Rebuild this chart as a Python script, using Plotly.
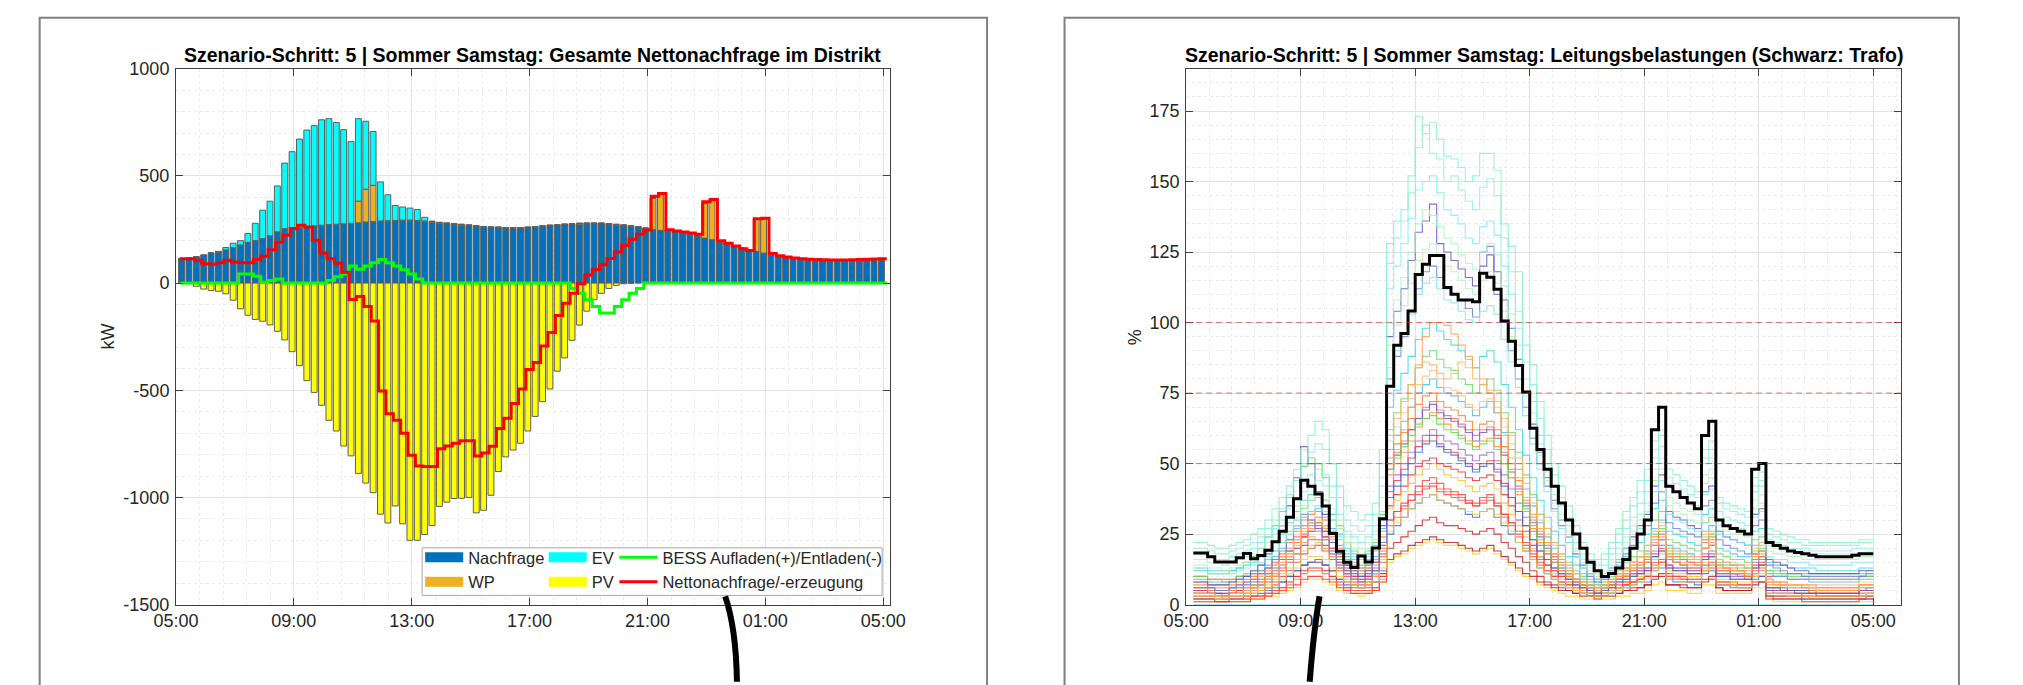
import plotly.graph_objects as go

W, H = 2023, 685
FONT = "Liberation Sans, Arial, Helvetica, sans-serif"
TXT = "#262626"

# ---------------- shared axis labels ----------------
tick_hours = [0, 4, 8, 12, 16, 20, 24]
tick_labels = ["05:00", "09:00", "13:00", "17:00", "21:00", "01:00", "05:00"]
left_y_ticks = [-1500, -1000, -500, 0, 500, 1000]
left_y_labels = ["-1500", "-1000", "-500", "0", "500", "1000"]
right_y_ticks = [0, 25, 50, 75, 100, 125, 150, 175]
right_y_labels = ["0", "25", "50", "75", "100", "125", "150", "175"]
thresholds = [50, 75, 100]

title_left = "Szenario-Schritt: 5 | Sommer Samstag: Gesamte Nettonachfrage im Distrikt"
title_right = "Szenario-Schritt: 5 | Sommer Samstag: Leitungsbelastungen (Schwarz: Trafo)"

# ---------------- left chart: district demand (kW), 96 x 15 min ----------------
nachfrage = [113, 116, 122, 130, 140, 145, 155, 166, 178, 190,
             198, 208, 222, 239, 254, 258, 261, 264, 267, 270,
             273, 275, 277, 279, 281, 285, 287, 288, 289, 290,
             290, 290, 288, 286, 284, 279, 276, 273, 270, 267,
             263, 260, 258, 257, 255, 255, 255, 257, 260, 263,
             266, 268, 271, 273, 275, 276, 276, 276, 273, 270,
             267, 263, 258, 252, 249, 246, 243, 240, 232, 225,
             217, 210, 202, 190, 182, 172, 161, 154, 148, 140,
             132, 125, 118, 113, 110, 107, 105, 104, 103, 102,
             102, 102, 103, 104, 105, 106]
wp = [0, 0, 0, 0, 0, 0, 0, 0, 0, 0,
      0, 0, 0, 0, 0, 0, 0, 0, 0, 0,
      0, 0, 0, 0, 101, 153, 169, 2, 2, 2,
      4, 4, 4, 4, 4, 4, 4, 4, 4, 4,
      4, 4, 4, 4, 4, 4, 4, 4, 4, 4,
      4, 4, 4, 4, 4, 4, 4, 4, 4, 4,
      4, 4, 4, 4, 148, 169, 3, 3, 3, 3,
      3, 163, 187, 2, 2, 2, 2, 2, 151, 159,
      0, 0, 0, 0, 0, 0, 0, 0, 0, 0,
      0, 0, 0, 0, 0, 0]
ev = [0, 0, 0, 0, 0, 3, 11, 20, 20, 41,
      81, 132, 160, 214, 306, 355, 411, 450, 468, 492,
      494, 474, 439, 381, 385, 317, 251, 182, 121, 70,
      61, 56, 51, 17, 0, 0, 0, 0, 0, 0,
      0, 0, 0, 0, 0, 0, 0, 0, 0, 0,
      0, 0, 0, 0, 0, 0, 0, 0, 0, 0,
      0, 0, 0, 0, 0, 0, 0, 0, 0, 0,
      0, 0, 0, 0, 0, 0, 0, 0, 0, 0,
      0, 0, 0, 0, 0, 0, 0, 0, 0, 0,
      0, 0, 0, 0, 0, 0]
pv = [0, -3, -15, -28, -35, -38, -50, -80, -120, -150,
      -170, -178, -195, -225, -265, -320, -385, -455, -510, -570,
      -640, -690, -760, -806, -888, -933, -978, -1078, -1119, -1040,
      -1123, -1200, -1200, -1173, -1131, -1042, -1022, -1005, -1004, -1000,
      -1072, -1060, -990, -879, -811, -779, -747, -690, -622, -553,
      -494, -411, -349, -267, -196, -131, -78, -48, -25, -11,
      -3, -1, 0, 0, 0, 0, 0, 0, 0, 0,
      0, 0, 0, 0, 0, 0, 0, 0, 0, 0,
      0, 0, 0, 0, 0, 0, 0, 0, 0, 0,
      0, 0, 0, 0, 0, 0]
bess = [0, 0, 0, 0, 0, 0, 0, 0, 42, 42,
        32, 4, 12, 19, 0, 0, 0, 0, 0, 0,
        12, 30, 42, 80, 65, 80, 95, 110, 95, 80,
        62, 42, 19, 0, 0, 0, 0, 0, 0, 0,
        0, 0, 0, 0, 0, 0, 0, 0, 0, 0,
        0, 0, 0, -25, -48, -78, -109, -139, -139, -109,
        -78, -48, -25, 0, 0, 0, 0, 0, 0, 0,
        0, 0, 0, 0, 0, 0, 0, 0, 0, 0,
        0, 0, 0, 0, 0, 0, 0, 0, 0, 0,
        0, 0, 0, 0, 0, 0]
netto = [113, 113, 107, 90, 88, 95, 107, 98, 95, 95,
         110, 125, 155, 190, 223, 255, 270, 262, 200, 140,
         113, 92, 50, -77, -63, -109, -177, -504, -610, -640,
         -700, -803, -853, -856, -856, -773, -760, -747, -735, -735,
         -807, -793, -761, -678, -630, -562, -494, -403, -370, -294,
         -230, -151, -94, -48, -3, 38, 62, 85, 115, 145,
         175, 205, 228, 248, 405, 418, 249, 243, 238, 234,
         228, 380, 390, 198, 186, 173, 160, 152, 300, 302,
         138, 128, 122, 117, 113, 111, 110, 109, 108, 108,
         108, 109, 110, 111, 112, 113]

# ---------------- right chart: line loadings (%), 96 x 15 min ----------------
trafo = [18.3, 18.3, 17.0, 15.1, 15.1, 15.1, 16.6, 18.1, 16.3, 17.4,
         19.3, 22.3, 26.0, 31.0, 37.5, 44.1, 42.0, 39.2, 35.0, 25.2,
         18.9, 15.0, 13.2, 17.2, 15.1, 20.1, 30.4,
         77.4, 92.0, 96.1, 104.1, 117.0, 120.7, 123.8, 123.8, 112.4, 110.0,
         108.0, 108.0, 107.4, 117.5, 116.1, 111.8, 100.6, 93.4, 84.8, 75.4, 62.5,
         55, 48, 42, 36, 30, 25, 20, 15, 12, 10, 11, 13,
         16, 20, 25, 30, 62, 70, 42, 40, 38, 36,
         34, 60, 65, 30, 28, 27, 26, 25, 48, 50,
         22, 21, 20, 19, 18.5, 18, 17.5, 17, 17, 17, 17, 17, 17.5, 18, 18, 18]

line_L1 = [22, 22, 21, 20, 20, 21, 22, 23, 25, 27,
           30, 34, 38, 42, 48, 55, 60, 65, 62, 50,
           42, 35, 33, 30, 32, 36, 55,
           128, 136, 140, 152, 173, 167, 171, 165, 159, 158, 155, 150, 152, 160, 160, 154, 135, 127, 118, 100, 85,
           72, 60, 50, 42, 35, 28, 22, 18, 16, 18, 22, 27,
           33, 38, 44, 48, 58, 62, 48, 46, 44, 42,
           40, 55, 58, 38, 36, 35, 34, 33, 45, 47,
           27, 26, 25, 24, 23, 23, 22, 22, 22, 22, 22, 22, 22, 23, 23, 23]
line_L2 = [20, 20, 19, 18, 18, 19, 20, 21, 22, 24,
           27, 30, 34, 39, 44, 50, 54, 57, 55, 50,
           38, 30, 28, 26, 28, 32, 50,
           121, 130, 136, 146, 162, 170, 160, 158, 150, 152, 147, 143, 140, 148, 151, 145, 130, 118, 104, 92, 78,
           66, 55, 46, 38, 31, 25, 20, 16, 14, 16, 20, 25,
           30, 35, 40, 44, 55, 60, 45, 43, 41, 39,
           38, 52, 55, 36, 34, 33, 32, 31, 42, 44,
           25, 24, 23, 22, 22, 21, 21, 21, 21, 21, 21, 21, 21, 22, 22, 22]
line_L3 = [18, 18, 17, 16, 16, 17, 18, 19, 20, 22,
           24, 27, 30, 34, 38, 43, 46, 48, 46, 42,
           32, 26, 24, 22, 24, 28, 45,
           112, 120, 128, 137, 147, 150, 152, 146, 140, 138, 135, 130, 128, 134, 136, 131, 120, 110, 98, 86, 72,
           60, 50, 42, 35, 28, 22, 18, 14, 12, 14, 18, 22,
           27, 31, 36, 40, 52, 56, 42, 40, 38, 36,
           35, 50, 52, 33, 31, 30, 29, 28, 40, 42,
           23, 22, 21, 20, 20, 20, 19, 19, 19, 19, 19, 19, 20, 20, 20, 20]
line_L4 = [16, 16, 15, 15, 14, 15, 16, 17, 18, 20,
           22, 25, 28, 31, 35, 40, 42, 44, 42, 38,
           30, 24, 22, 20, 22, 26, 42,
           100, 108, 116, 125, 135, 140, 138, 134, 130, 128, 124, 121, 119, 125, 128, 124, 113, 103, 92, 80, 68,
           57, 47, 39, 32, 26, 20, 16, 13, 11, 12, 16, 20,
           24, 28, 32, 36, 48, 52, 38, 36, 34, 33,
           32, 46, 48, 30, 28, 27, 27, 26, 37, 39,
           21, 20, 19, 19, 18, 18, 18, 18, 18, 18, 18, 18, 18, 18, 19, 19]
line_L5 = [14, 14, 13, 13, 12, 13, 14, 15, 16, 17,
           19, 22, 25, 28, 31, 35, 37, 39, 37, 34,
           27, 22, 20, 18, 20, 23, 38,
           92, 99, 106, 114, 122, 126, 128, 124, 120, 118, 115, 112, 110, 115, 118, 114, 104, 95, 85, 74, 63,
           53, 44, 36, 30, 24, 19, 15, 12, 10, 11, 14, 18,
           22, 26, 30, 33, 44, 48, 35, 33, 32, 30,
           29, 43, 45, 28, 26, 25, 25, 24, 34, 36,
           19, 18, 18, 17, 17, 16, 16, 16, 16, 16, 16, 16, 16, 17, 17, 17]
line_L6 = [12, 12, 11, 11, 11, 11, 12, 13, 14, 15,
           17, 19, 22, 25, 28, 31, 33, 35, 33, 30,
           24, 19, 17, 16, 17, 20, 33,
           84, 90, 96, 103, 110, 114, 116, 112, 108, 107, 104, 101, 100, 104, 106, 103, 94, 86, 77, 67, 57,
           48, 40, 33, 27, 22, 17, 13, 11, 9, 10, 13, 16,
           20, 23, 27, 30, 40, 44, 32, 30, 29, 27,
           26, 39, 41, 25, 24, 23, 22, 21, 31, 33,
           17, 16, 16, 15, 15, 15, 14, 14, 14, 14, 14, 14, 15, 15, 15, 15]
line_B1 = [8, 8, 7, 7, 7, 8, 9, 10, 12, 14,
           18, 22, 28, 35, 45, 56, 50, 40, 32, 25,
           18, 14, 12, 10, 12, 15, 28,
           95, 104, 112, 122, 132, 136, 142, 128, 125, 122, 119, 116, 113, 120, 124, 118, 108, 98, 87, 75, 64,
           54, 45, 37, 30, 24, 18, 14, 11, 9, 10, 13, 16,
           20, 24, 28, 32, 42, 46, 33, 31, 30, 28,
           27, 40, 42, 26, 24, 23, 22, 21, 32, 34,
           16, 15, 14, 13, 12, 12, 11, 11, 11, 11, 11, 11, 11, 12, 12, 12]
line_B2 = [6, 6, 6, 5, 5, 6, 7, 8, 9, 11,
           13, 16, 19, 23, 28, 32, 30, 27, 23, 19,
           14, 11, 9, 8, 9, 12, 22,
           80, 88, 95, 104, 112, 118, 120, 116, 112, 110, 108, 105, 102, 125, 127, 110, 100, 90, 80, 70, 59,
           50, 42, 34, 28, 22, 17, 13, 10, 8, 9, 12, 15,
           18, 21, 25, 28, 36, 40, 29, 27, 26, 25,
           24, 35, 37, 23, 21, 20, 19, 18, 28, 30,
           14, 13, 12, 11, 11, 10, 10, 10, 10, 10, 10, 10, 10, 10, 11, 11]
line_O1 = [4, 4, 4, 3, 3, 4, 4, 5, 6, 7,
           9, 11, 14, 17, 21, 25, 27, 26, 23, 19,
           14, 11, 9, 8, 9, 11, 20,
           60, 66, 72, 78, 84, 86, 85, 82, 80, 82, 86, 84, 80, 78, 76, 72, 66, 60, 52, 45, 38,
           32, 27, 22, 18, 14, 11, 9, 7, 6, 7, 9, 11,
           13, 15, 17, 19, 26, 28, 20, 19, 18, 17,
           16, 24, 26, 16, 15, 14, 14, 13, 20, 21,
           9, 8, 8, 7, 7, 7, 6, 6, 6, 6, 6, 6, 6, 7, 7, 7]
line_O2 = [3, 3, 3, 3, 2, 3, 3, 4, 5, 6,
           8, 10, 12, 15, 18, 22, 24, 23, 20, 17,
           12, 9, 8, 7, 8, 10, 17,
           50, 55, 62, 70, 85, 95, 100, 100, 99, 96, 92, 88, 84, 80, 75, 68, 60, 52, 45, 38, 32,
           27, 22, 18, 15, 12, 9, 7, 6, 5, 6, 8, 10,
           11, 13, 15, 17, 22, 24, 17, 16, 15, 14,
           14, 20, 22, 14, 13, 12, 12, 11, 17, 18,
           8, 7, 7, 6, 6, 6, 6, 5, 5, 5, 5, 5, 5, 6, 6, 6]
line_M1 = [5, 5, 4, 4, 4, 4, 5, 5, 6, 7,
           9, 11, 13, 16, 20, 24, 26, 27, 24, 20,
           15, 12, 10, 9, 10, 12, 18,
           40, 44, 48, 52, 56, 58, 60, 57, 55, 54, 52, 50, 48, 50, 51, 48, 43, 38, 33, 28, 23,
           19, 16, 13, 11, 9, 7, 6, 5, 4, 5, 6, 7,
           8, 10, 11, 12, 18, 20, 13, 12, 12, 11,
           11, 17, 18, 10, 10, 9, 9, 9, 14, 15,
           6, 6, 5, 5, 5, 5, 4, 4, 4, 4, 4, 4, 4, 5, 5, 5]
line_M2 = [3, 3, 3, 3, 2, 3, 3, 3, 4, 5,
           6, 8, 10, 12, 15, 18, 20, 21, 19, 16,
           12, 10, 8, 7, 8, 10, 15,
           30, 33, 36, 39, 42, 44, 45, 43, 41, 40, 39, 37, 36, 38, 39, 36, 32, 29, 25, 21, 18,
           15, 12, 10, 8, 7, 6, 5, 4, 3, 4, 5, 6,
           7, 8, 9, 10, 15, 16, 11, 10, 10, 9,
           9, 14, 15, 8, 8, 8, 7, 7, 12, 13,
           5, 4, 4, 4, 4, 3, 3, 3, 3, 3, 3, 3, 3, 3, 4, 4]
line_M3 = [6, 6, 5, 5, 5, 5, 6, 6, 7, 8,
           10, 12, 15, 18, 22, 26, 28, 29, 27, 23,
           17, 14, 12, 11, 12, 14, 22,
           46, 50, 54, 58, 63, 66, 68, 66, 64, 62, 60, 58, 56, 58, 59, 56, 50, 45, 39, 33, 27,
           22, 18, 15, 12, 10, 8, 7, 6, 5, 6, 7, 9,
           10, 12, 13, 15, 21, 23, 16, 15, 14, 13,
           13, 20, 21, 12, 12, 11, 11, 10, 16, 17,
           7, 7, 6, 6, 6, 6, 5, 5, 5, 5, 5, 5, 5, 6, 6, 6]
line_M4 = [4, 4, 4, 3, 3, 4, 4, 4, 5, 6,
           7, 9, 11, 13, 16, 19, 21, 22, 20, 17,
           13, 11, 9, 8, 9, 11, 16,
           34, 37, 40, 43, 46, 48, 50, 48, 46, 45, 44, 42, 40, 42, 43, 41, 36, 32, 28, 24, 20,
           17, 14, 11, 9, 8, 6, 5, 4, 4, 4, 5, 6,
           8, 9, 10, 11, 16, 18, 12, 11, 11, 10,
           10, 15, 16, 9, 9, 8, 8, 8, 13, 14,
           5, 5, 5, 4, 4, 4, 4, 4, 4, 4, 4, 4, 4, 4, 4, 5]
line_M5 = [10, 10, 9, 9, 8, 9, 10, 11, 12, 14,
           16, 19, 22, 26, 30, 34, 37, 38, 35, 30,
           23, 18, 16, 14, 16, 19, 30,
           62, 68, 73, 78, 84, 88, 90, 87, 84, 83, 80, 78, 75, 78, 80, 76, 68, 61, 54, 46, 39,
           32, 27, 22, 18, 15, 12, 10, 8, 7, 8, 10, 12,
           15, 17, 19, 21, 30, 33, 23, 22, 21, 20,
           19, 29, 31, 18, 17, 16, 16, 15, 23, 24,
           12, 11, 11, 10, 10, 10, 9, 9, 9, 9, 9, 9, 9, 10, 10, 10]
line_M6 = [9, 9, 8, 8, 8, 8, 9, 10, 11, 12,
           14, 17, 20, 23, 27, 31, 33, 34, 31, 27,
           21, 17, 15, 13, 14, 17, 27,
           55, 60, 65, 70, 75, 78, 80, 77, 75, 74, 72, 70, 67, 70, 72, 68, 61, 55, 48, 41, 35,
           29, 24, 20, 16, 13, 11, 9, 7, 6, 7, 9, 11,
           13, 15, 17, 19, 27, 30, 21, 20, 19, 18,
           17, 26, 28, 16, 15, 14, 14, 13, 21, 22,
           11, 10, 10, 9, 9, 9, 8, 8, 8, 8, 8, 8, 8, 9, 9, 9]
line_M7 = [2, 2, 2, 2, 2, 2, 2, 3, 3, 4,
           5, 6, 8, 10, 12, 14, 15, 16, 14, 12,
           9, 7, 6, 6, 6, 8, 12,
           25, 28, 31, 34, 36, 38, 39, 37, 36, 35, 34, 32, 31, 33, 34, 31, 28, 25, 22, 19, 16,
           13, 11, 9, 7, 6, 5, 4, 3, 3, 3, 4, 5,
           6, 7, 8, 8, 12, 13, 9, 8, 8, 8,
           7, 11, 12, 7, 7, 6, 6, 6, 9, 10,
           3, 3, 3, 3, 3, 2, 2, 2, 2, 2, 2, 2, 2, 2, 3, 3]
line_M8 = [2, 2, 2, 1, 1, 2, 2, 2, 3, 3,
           4, 5, 6, 8, 10, 12, 13, 13, 12, 10,
           8, 6, 5, 5, 5, 6, 10,
           20, 22, 24, 26, 28, 30, 31, 29, 28, 28, 27, 26, 25, 26, 27, 25, 22, 20, 17, 15, 12,
           10, 8, 7, 6, 5, 4, 3, 3, 2, 3, 3, 4,
           5, 5, 6, 7, 10, 11, 7, 7, 7, 6,
           6, 9, 10, 6, 5, 5, 5, 5, 8, 8,
           3, 2, 2, 2, 2, 2, 2, 2, 2, 2, 2, 2, 2, 2, 2, 2]
line_M9 = [7, 7, 6, 6, 6, 6, 7, 8, 9, 10,
           12, 14, 17, 20, 24, 28, 30, 31, 28, 24,
           19, 15, 13, 12, 13, 15, 24,
           50, 54, 58, 62, 66, 70, 72, 69, 67, 66, 64, 62, 60, 62, 63, 60, 54, 48, 42, 36, 30,
           25, 21, 17, 14, 11, 9, 7, 6, 5, 6, 7, 9,
           11, 13, 14, 16, 23, 25, 17, 16, 16, 15,
           14, 22, 23, 13, 13, 12, 12, 11, 18, 19,
           8, 8, 7, 7, 7, 6, 6, 6, 6, 6, 6, 6, 6, 7, 7, 7]
line_M10 = [5, 5, 5, 4, 4, 5, 5, 6, 7, 8,
            10, 12, 14, 17, 20, 24, 26, 26, 24, 20,
            15, 12, 10, 9, 10, 12, 19,
            42, 46, 50, 54, 58, 60, 62, 60, 58, 57, 55, 53, 51, 53, 54, 51, 46, 41, 36, 31, 26,
            21, 18, 15, 12, 10, 8, 6, 5, 4, 5, 6, 8,
            9, 11, 12, 13, 19, 21, 14, 13, 13, 12,
            12, 18, 19, 11, 11, 10, 10, 9, 15, 16,
            6, 6, 5, 5, 5, 5, 5, 4, 4, 4, 4, 4, 4, 5, 5, 5]
line_M11 = [1, 1, 1, 1, 1, 1, 1, 1, 2, 2,
            3, 3, 4, 5, 6, 8, 9, 9, 8, 7,
            5, 4, 4, 3, 4, 5, 8,
            15, 17, 18, 20, 21, 22, 23, 22, 21, 21, 20, 19, 18, 19, 20, 18, 16, 14, 12, 10, 9,
            7, 6, 5, 4, 3, 3, 2, 2, 2, 2, 2, 3,
            3, 4, 4, 5, 7, 8, 5, 5, 5, 4,
            4, 7, 7, 4, 4, 4, 4, 4, 6, 6,
            2, 1, 1, 1, 1, 1, 1, 1, 1, 1, 1, 1, 1, 1, 1, 1]
line_M12 = [8, 8, 7, 7, 7, 7, 8, 9, 10, 11,
            13, 16, 18, 22, 26, 30, 32, 33, 30, 26,
            20, 16, 14, 13, 14, 16, 26,
            52, 57, 61, 66, 71, 74, 75, 72, 70, 69, 67, 65, 62, 64, 65, 62, 56, 50, 44, 37, 31,
            26, 22, 18, 15, 12, 9, 8, 6, 5, 6, 8, 10,
            12, 14, 15, 17, 24, 26, 18, 17, 16, 15,
            15, 23, 24, 14, 13, 13, 12, 12, 18, 19,
            9, 8, 8, 7, 7, 7, 7, 6, 6, 6, 6, 6, 6, 7, 7, 7]
line_N1 = [10, 10, 9, 9, 9, 9, 10, 10, 11, 12,
           13, 15, 17, 19, 22, 25, 27, 28, 26, 22,
           17, 14, 13, 12, 13, 15, 20,
           30, 33, 35, 37, 39, 41, 42, 40, 39, 38, 37, 36, 35, 36, 37, 35, 32, 29, 26, 22, 19,
           16, 14, 12, 10, 9, 8, 7, 7, 6, 7, 8, 9,
           10, 11, 12, 13, 17, 19, 14, 13, 13, 12,
           12, 16, 17, 11, 11, 11, 10, 10, 13, 14,
           10, 10, 10, 9, 9, 9, 9, 9, 9, 9, 9, 9, 9, 10, 10, 10]
line_N2 = [12, 12, 11, 11, 11, 12, 13, 15, 17, 20,
           24, 28, 33, 38, 44, 49, 52, 50, 45, 38,
           28, 22, 19, 17, 19, 22, 32,
           48, 52, 56, 60, 64, 66, 67, 64, 62, 61, 59, 57, 55, 57, 58, 55, 50, 45, 40, 34, 28,
           23, 19, 16, 13, 11, 9, 8, 7, 6, 7, 9, 11,
           13, 15, 17, 18, 25, 27, 19, 18, 17, 16,
           16, 23, 25, 15, 14, 14, 13, 13, 19, 20,
           12, 12, 11, 11, 11, 11, 11, 11, 11, 11, 11, 11, 11, 11, 12, 12]
line_N3 = [6, 6, 6, 5, 5, 6, 6, 7, 8, 9,
           11, 13, 16, 19, 23, 27, 29, 29, 26, 22,
           16, 13, 11, 10, 11, 13, 21,
           38, 42, 46, 50, 54, 57, 58, 56, 54, 53, 51, 49, 47, 49, 50, 47, 42, 38, 33, 28, 23,
           19, 16, 13, 11, 9, 7, 6, 5, 4, 5, 6, 8,
           9, 10, 11, 12, 17, 19, 13, 12, 12, 11,
           11, 16, 17, 10, 10, 9, 9, 9, 13, 14,
           6, 6, 6, 5, 5, 5, 5, 5, 5, 5, 5, 5, 5, 5, 6, 6]
line_N4 = [2, 2, 2, 2, 2, 2, 2, 2, 3, 3,
           4, 5, 6, 7, 9, 11, 12, 12, 11, 9,
           7, 6, 5, 5, 5, 6, 9,
           28, 31, 34, 37, 40, 42, 43, 41, 40, 39, 38, 36, 35, 37, 38, 35, 31, 28, 24, 20, 17,
           14, 12, 10, 8, 7, 5, 4, 4, 3, 4, 5, 6,
           7, 8, 9, 10, 14, 15, 10, 10, 9, 9,
           9, 13, 14, 8, 8, 7, 7, 7, 11, 12,
           3, 3, 3, 3, 3, 3, 2, 2, 2, 2, 2, 2, 2, 3, 3, 3]
line_N5 = [13, 13, 12, 12, 12, 12, 13, 14, 15, 17,
           19, 22, 25, 29, 33, 37, 39, 40, 37, 32,
           25, 20, 18, 16, 18, 21, 30,
           70, 76, 82, 88, 94, 98, 100, 97, 94, 92, 90, 87, 84, 88, 90, 86, 78, 70, 62, 53, 45,
           37, 31, 26, 21, 17, 14, 11, 9, 8, 9, 11, 14,
           17, 20, 22, 25, 34, 37, 26, 25, 24, 22,
           21, 32, 34, 20, 19, 18, 17, 17, 26, 27,
           15, 14, 14, 13, 13, 13, 13, 12, 12, 12, 12, 12, 12, 13, 13, 13]
line_N6 = [3, 3, 3, 2, 2, 3, 3, 3, 4, 5,
           6, 7, 9, 11, 13, 16, 17, 17, 16, 13,
           10, 8, 7, 6, 7, 8, 13,
           26, 29, 31, 34, 36, 38, 39, 37, 36, 35, 34, 33, 32, 33, 34, 32, 29, 26, 22, 19, 16,
           13, 11, 9, 7, 6, 5, 4, 3, 3, 3, 4, 5,
           6, 7, 8, 9, 12, 14, 9, 9, 8, 8,
           8, 12, 13, 7, 7, 7, 6, 6, 10, 11,
           4, 4, 4, 3, 3, 3, 3, 3, 3, 3, 3, 3, 3, 3, 4, 4]
line_N7 = [4, 4, 4, 4, 3, 4, 4, 5, 6, 7,
           8, 10, 12, 15, 18, 21, 23, 23, 21, 18,
           13, 11, 9, 8, 9, 11, 17,
           48, 53, 57, 62, 66, 69, 71, 68, 66, 65, 63, 61, 58, 61, 62, 59, 53, 47, 41, 35, 29,
           24, 20, 16, 13, 11, 9, 7, 6, 5, 6, 7, 9,
           10, 12, 13, 15, 21, 23, 16, 15, 14, 13,
           13, 20, 21, 12, 12, 11, 11, 10, 16, 17,
           5, 5, 5, 5, 4, 4, 4, 4, 4, 4, 4, 4, 4, 5, 5, 5]
line_N8 = [4, 4, 4, 3, 3, 4, 4, 4, 5, 5,
           6, 7, 8, 10, 12, 14, 15, 15, 14, 12,
           9, 8, 7, 6, 7, 8, 11,
           16, 18, 19, 21, 22, 23, 24, 23, 22, 22, 21, 20, 19, 20, 21, 19, 17, 15, 13, 11, 10,
           8, 7, 6, 5, 5, 4, 4, 3, 3, 3, 4, 4,
           5, 6, 6, 7, 9, 10, 7, 7, 6, 6,
           6, 8, 9, 6, 5, 5, 5, 5, 7, 8,
           4, 4, 4, 4, 4, 4, 4, 3, 3, 3, 3, 3, 3, 4, 4, 4]
line_N9 = [7, 7, 7, 6, 6, 7, 7, 8, 9, 10,
           12, 14, 17, 20, 23, 27, 29, 30, 28, 24,
           18, 15, 13, 12, 13, 15, 24,
           58, 63, 68, 73, 78, 81, 83, 80, 77, 76, 74, 71, 69, 72, 73, 70, 63, 57, 50, 43, 36,
           30, 25, 21, 17, 14, 11, 9, 8, 7, 8, 9, 11,
           13, 15, 17, 19, 26, 29, 20, 19, 18, 17,
           17, 25, 26, 16, 15, 15, 14, 14, 21, 22,
           8, 8, 8, 7, 7, 7, 7, 7, 7, 7, 7, 7, 7, 8, 8, 8]
line_N10 = [1, 1, 1, 1, 1, 1, 1, 1, 2, 2,
            3, 4, 5, 6, 7, 9, 10, 10, 9, 8,
            6, 5, 4, 4, 4, 5, 8,
            35, 39, 42, 46, 49, 51, 52, 50, 49, 48, 47, 45, 44, 45, 46, 44, 39, 35, 30, 26, 21,
            17, 14, 12, 10, 8, 6, 5, 4, 4, 4, 5, 6,
            7, 8, 9, 10, 13, 15, 10, 9, 9, 8,
            8, 12, 13, 7, 7, 7, 6, 6, 10, 10,
            2, 2, 2, 2, 2, 1, 1, 1, 1, 1, 1, 1, 1, 2, 2, 2]
line_zero = [0] * 96

line_series = [
    (line_M11, "#FFD21A"), (line_N10, "#F02828"), (line_M8, "#CC1A1A"), (line_N8, "#B01818"),
    (line_M7, "#3366E6"), (line_N4, "#FF6633"), (line_M2, "#E84040"), (line_N6, "#E8D040"),
    (line_M4, "#F2C230"), (line_N1, "#FF4040"), (line_M10, "#9966E6"), (line_M1, "#FF3030"),
    (line_N3, "#2F6FE0"), (line_M9, "#FF6060"), (line_N7, "#7050C0"), (line_M3, "#FF8C1A"),
    (line_M12, "#FF7A1A"), (line_N2, "#50E050"), (line_M6, "#40B8F0"), (line_N9, "#FFC080"),
    (line_M5, "#66D966"), (line_N5, "#30D8E8"),
    (line_O2, "#FFA04A"), (line_O1, "#FFB266"), (line_B2, "#6A7AE0"), (line_B1, "#5A50C8"),
    (line_L6, "#80E6F0"), (line_L5, "#B4F0B4"), (line_L4, "#A6F5C8"), (line_L3, "#7FEFF0"),
    (line_L2, "#8CF0D8"), (line_L1, "#7FF5C0"), (line_zero, "#40C0E0"),
]

bad = [i for i, (s, _) in enumerate(line_series) if len(s) != 96]
for nm, s in [("nachfrage", nachfrage), ("wp", wp), ("ev", ev), ("pv", pv), ("bess", bess),
              ("netto", netto), ("trafo", trafo)]:
    if len(s) != 96:
        bad.append(nm)
if bad:
    raise ValueError("length mismatch: %s" % bad)

# ---------------- positions (time axis, hours after 05:00) ----------------
n_slots = 96
slot = 0.25
bar_x = [0.19 + slot * k for k in range(n_slots)]
step_x_left = [0.125 + slot * k for k in range(n_slots + 1)]
step_x_right = [slot * (k + 1) for k in range(n_slots)]

fig = go.Figure()

# stacked bars (left)
bar_line = dict(color="#5e5e5e", width=1)
for vals, col in [(nachfrage, "#0072BD"), (wp, "#EDB120"), (ev, "#00FFFF"), (pv, "#FFFF00")]:
    fig.add_trace(go.Bar(x=bar_x, y=vals, width=0.2, marker=dict(color=col, line=bar_line),
                         xaxis="x", yaxis="y", showlegend=False, hoverinfo="skip"))

# legend patches (legend-only entries)
for name, col, lg in [("Nachfrage", "#0072BD", "legend"), ("WP", "#EDB120", "legend"),
                      ("EV", "#00FFFF", "legend2"), ("PV", "#FFFF00", "legend2")]:
    fig.add_trace(go.Scatter(x=[None], y=[None], mode="lines", name=name,
                             line=dict(color=col, width=10), legend=lg,
                             xaxis="x", yaxis="y"))

fig.add_trace(go.Scatter(x=step_x_left, y=bess + [bess[-1]], mode="lines",
                         line=dict(shape="hv", color="#00FF00", width=3),
                         name="BESS Aufladen(+)/Entladen(-)", legend="legend3",
                         xaxis="x", yaxis="y", hoverinfo="skip"))
fig.add_trace(go.Scatter(x=step_x_left, y=netto + [netto[-1]], mode="lines",
                         line=dict(shape="hv", color="#FF0000", width=3),
                         name="Nettonachfrage/-erzeugung", legend="legend3",
                         xaxis="x", yaxis="y", hoverinfo="skip"))

# line loadings (right)
for vals, col in line_series:
    fig.add_trace(go.Scatter(x=step_x_right, y=vals, mode="lines",
                             line=dict(shape="hv", color=col, width=1.1), opacity=0.8,
                             xaxis="x2", yaxis="y2", showlegend=False, hoverinfo="skip"))
fig.add_trace(go.Scatter(x=step_x_right, y=trafo, mode="lines",
                         line=dict(shape="hv", color="#000000", width=3),
                         xaxis="x2", yaxis="y2", showlegend=False, hoverinfo="skip"))

# ---------------- layout ----------------
yd = [1 - 612.5 / H, 1 - 60.5 / H]
tickfont = dict(family=FONT, size=18, color=TXT)
axis_common = dict(ticks="inside", ticklen=7, tickcolor="#404040", showline=True,
                   linecolor="#404040", linewidth=1, mirror="allticks", showgrid=True,
                   gridcolor="#e2e2e2", gridwidth=1, zeroline=False, tickfont=tickfont)

fig.update_layout(
    width=W, height=H, autosize=False,
    margin=dict(l=0, r=0, t=0, b=0),
    paper_bgcolor="white", plot_bgcolor="white",
    barmode="relative",
    font=dict(family=FONT, color=TXT),
    xaxis=dict(domain=[156 / W, 884 / W], range=[0, 24.23], anchor="y",
               tickmode="array", tickvals=tick_hours, ticktext=tick_labels,
               ticklabelstandoff=0,
               minor=dict(tickmode="linear", tick0=0, dtick=0.8, showgrid=True,
                          gridcolor="#ebebeb", griddash="dot", ticks=""),
               **axis_common),
    yaxis=dict(domain=yd, range=[-1500, 1000], anchor="x",
               tickmode="array", tickvals=left_y_ticks, ticktext=left_y_labels,
               ticklabelstandoff=2,
               minor=dict(tickmode="linear", tick0=0, dtick=100, showgrid=True,
                          gridcolor="#ebebeb", griddash="dot", ticks=""),
               **axis_common),
    xaxis2=dict(domain=[1186 / W, 1915 / W], range=[0, 24.97], anchor="y2",
                tickmode="array", tickvals=tick_hours, ticktext=tick_labels,
                ticklabelstandoff=0,
                minor=dict(tickmode="linear", tick0=0, dtick=0.8, showgrid=True,
                           gridcolor="#ebebeb", griddash="dot", ticks=""),
                **axis_common),
    yaxis2=dict(domain=yd, range=[0, 190], anchor="x2",
                tickmode="array", tickvals=right_y_ticks, ticktext=right_y_labels,
                ticklabelstandoff=2,
                minor=dict(tickmode="linear", tick0=0, dtick=5, showgrid=True,
                           gridcolor="#ebebeb", griddash="dot", ticks=""),
                **axis_common),
)

leg_common = dict(orientation="v", xanchor="left", yanchor="top", y=1 - 546 / H,
                  bgcolor="rgba(0,0,0,0)", borderwidth=0, itemwidth=38,
                  font=dict(family=FONT, size=16.5, color=TXT), tracegroupgap=0,
                  itemclick=False, itemdoubleclick=False)
fig.update_layout(legend=dict(x=405 / W, **leg_common),
                  legend2=dict(x=531 / W, **leg_common),
                  legend3=dict(x=603 / W, **leg_common))

shapes = []
# panel frames
for x0, x1 in [(17, 983), (1062, 1974)]:
    shapes.append(dict(type="rect", xref="paper", yref="paper", x0=x0 / W, x1=x1 / W,
                       y0=-0.2, y1=1 - 8 / H, line=dict(color="#808080", width=2),
                       fillcolor="rgba(0,0,0,0)", layer="below"))
# legend frame
shapes.append(dict(type="rect", xref="paper", yref="paper", x0=407 / W, x1=876 / W,
                   y0=1 - 603 / H, y1=1 - 554 / H, line=dict(color="#a6a6a6", width=1),
                   fillcolor="white", layer="above"))
# threshold lines
for v in thresholds:
    shapes.append(dict(type="line", xref="x2 domain", x0=0, x1=1, yref="y2", y0=v, y1=v,
                       line=dict(color="rgba(215,60,60,0.7)", width=1, dash="6px,4px"),
                       layer="above"))


def px(x, y):
    return "%.5f,%.5f" % (x / W, 1 - y / H)


# cropped caption glyph strokes at the bottom edge
shapes.append(dict(type="path", xref="paper", yref="paper",
                   path="M %s Q %s %s" % (px(716, 604), px(727, 636), px(728, 692)),
                   line=dict(color="black", width=6)))
shapes.append(dict(type="path", xref="paper", yref="paper",
                   path="M %s Q %s %s" % (px(1322, 604), px(1316, 640), px(1312, 692)),
                   line=dict(color="black", width=6)))
fig.update_layout(shapes=shapes)

ann = [
    dict(text=title_left, x=520 / W, y=1 - 46 / H, xref="paper", yref="paper",
         showarrow=False, xanchor="center", yanchor="middle",
         font=dict(family=FONT, size=19.5, color="#000000", weight="bold")),
    dict(text=title_right, x=1550.5 / W, y=1 - 46 / H, xref="paper", yref="paper",
         showarrow=False, xanchor="center", yanchor="middle",
         font=dict(family=FONT, size=19.5, color="#000000", weight="bold")),
    dict(text="kW", x=87 / W, y=1 - 336 / H, xref="paper", yref="paper", showarrow=False,
         textangle=-90, xanchor="center", yanchor="middle",
         font=dict(family=FONT, size=18, color=TXT)),
    dict(text="%", x=1134 / W, y=1 - 337 / H, xref="paper", yref="paper", showarrow=False,
         textangle=-90, xanchor="center", yanchor="middle",
         font=dict(family=FONT, size=18, color=TXT)),
]
fig.update_layout(annotations=ann)

fig.write_html("out.html", config={"displayModeBar": False},
               post_script="document.body.style.margin='0px';")
